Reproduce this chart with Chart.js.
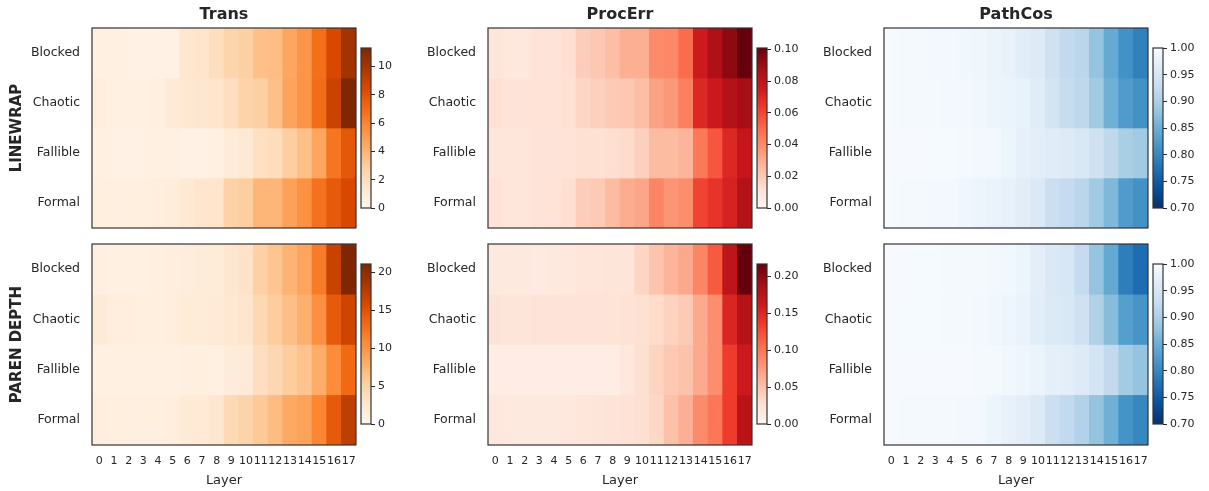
<!DOCTYPE html>
<html>
<head>
<meta charset="utf-8">
<script src="https://cdn.jsdelivr.net/npm/chart.js@4.4.0/dist/chart.umd.min.js"></script>
<style>
  body { margin: 0; background: #fff; }
  #wrap { position: relative; width: 1209px; height: 491px; overflow: hidden; }
  #wrap canvas { position: absolute; }
</style>
</head>
<body>
<div id="wrap"></div>
<script>
const layers = ["0", "1", "2", "3", "4", "5", "6", "7", "8", "9", "10", "11", "12", "13", "14", "15", "16", "17"];
const conditions = ["Blocked", "Chaotic", "Fallible", "Formal"];
const metrics = ["Trans", "ProcErr", "PathCos"];
const tasks = ["LINEWRAP", "PAREN DEPTH"];

// rows follow `conditions`, columns follow `layers`
const transLinewrap = [
  [0.45, 0.45, 0.3, 0.3, 0.3, 0.4, 1.3, 1.5, 1.9, 2.5, 2.8, 3.5, 3.6, 4.6, 5.3, 6.8, 8.5, 10.1],
  [0.7, 0.5, 0.5, 0.5, 0.6, 1.0, 1.2, 1.3, 1.5, 1.9, 2.6, 2.8, 3.5, 4.7, 5.4, 6.9, 8.9, 11.3],
  [0.45, 0.4, 0.4, 0.4, 0.45, 0.45, 0.4, 0.4, 0.45, 0.9, 1.1, 1.8, 2.0, 2.9, 3.5, 4.6, 6.6, 7.8],
  [0.6, 0.55, 0.55, 0.6, 0.7, 0.8, 1.1, 1.4, 1.5, 2.7, 2.9, 3.9, 3.9, 4.8, 5.5, 6.7, 7.7, 8.5],
];
const procErrLinewrap = [
  [0.009, 0.008, 0.008, 0.01, 0.01, 0.013, 0.019, 0.021, 0.024, 0.029, 0.029, 0.04, 0.041, 0.05, 0.075, 0.085, 0.093, 0.101],
  [0.012, 0.01, 0.01, 0.011, 0.011, 0.012, 0.016, 0.018, 0.02, 0.021, 0.024, 0.033, 0.036, 0.044, 0.07, 0.076, 0.084, 0.088],
  [0.009, 0.009, 0.009, 0.01, 0.01, 0.011, 0.012, 0.012, 0.013, 0.014, 0.018, 0.025, 0.025, 0.027, 0.046, 0.056, 0.07, 0.078],
  [0.011, 0.009, 0.009, 0.01, 0.011, 0.013, 0.019, 0.02, 0.025, 0.03, 0.032, 0.042, 0.037, 0.039, 0.061, 0.066, 0.072, 0.084],
];
const pathCosLinewrap = [
  [0.997, 0.996, 0.995, 0.994, 0.993, 0.99, 0.988, 0.982, 0.979, 0.967, 0.962, 0.94, 0.922, 0.915, 0.88, 0.845, 0.812, 0.793],
  [0.997, 0.996, 0.996, 0.995, 0.994, 0.992, 0.99, 0.985, 0.982, 0.978, 0.965, 0.945, 0.928, 0.918, 0.89, 0.853, 0.825, 0.812],
  [0.998, 0.998, 0.998, 0.997, 0.997, 0.995, 0.993, 0.992, 0.985, 0.975, 0.97, 0.965, 0.962, 0.955, 0.94, 0.918, 0.898, 0.89],
  [0.997, 0.996, 0.995, 0.993, 0.992, 0.989, 0.985, 0.98, 0.976, 0.968, 0.958, 0.935, 0.925, 0.915, 0.89, 0.865, 0.825, 0.812],
];
const transParen = [
  [1.0, 0.9, 0.9, 0.9, 1.0, 1.2, 1.4, 1.5, 1.6, 2.4, 3.0, 5.1, 6.1, 7.5, 8.6, 11.8, 16.7, 21.1],
  [1.8, 1.3, 1.3, 1.1, 1.1, 1.2, 1.6, 1.7, 1.9, 2.3, 2.6, 4.3, 5.5, 6.6, 7.8, 10.3, 14.4, 16.4],
  [0.9, 0.8, 0.8, 0.8, 0.8, 0.9, 1.0, 1.1, 0.9, 1.5, 1.9, 3.6, 4.4, 5.5, 6.2, 8.0, 10.7, 13.2],
  [1.3, 1.1, 1.0, 1.0, 1.1, 1.3, 1.8, 2.0, 2.4, 4.2, 4.8, 5.8, 6.8, 8.3, 8.9, 11.0, 14.4, 17.2],
];
const procErrParen = [
  [0.016, 0.016, 0.015, 0.014, 0.016, 0.018, 0.019, 0.019, 0.021, 0.021, 0.035, 0.048, 0.058, 0.067, 0.09, 0.118, 0.172, 0.217],
  [0.022, 0.021, 0.021, 0.022, 0.022, 0.022, 0.022, 0.022, 0.023, 0.024, 0.026, 0.031, 0.037, 0.043, 0.066, 0.085, 0.152, 0.178],
  [0.012, 0.011, 0.011, 0.011, 0.011, 0.011, 0.011, 0.011, 0.012, 0.017, 0.027, 0.036, 0.044, 0.049, 0.066, 0.085, 0.136, 0.162],
  [0.018, 0.016, 0.015, 0.015, 0.016, 0.018, 0.02, 0.021, 0.022, 0.024, 0.027, 0.033, 0.05, 0.062, 0.086, 0.1, 0.136, 0.175],
];
const pathCosParen = [
  [0.998, 0.998, 0.997, 0.997, 0.996, 0.996, 0.995, 0.993, 0.99, 0.984, 0.97, 0.958, 0.952, 0.925, 0.88, 0.843, 0.79, 0.77],
  [0.998, 0.997, 0.997, 0.997, 0.996, 0.995, 0.993, 0.99, 0.986, 0.98, 0.967, 0.96, 0.955, 0.94, 0.904, 0.87, 0.83, 0.817],
  [0.998, 0.998, 0.998, 0.998, 0.998, 0.998, 0.996, 0.995, 0.99, 0.987, 0.983, 0.973, 0.97, 0.962, 0.945, 0.922, 0.892, 0.88],
  [0.998, 0.996, 0.996, 0.996, 0.995, 0.994, 0.992, 0.985, 0.977, 0.97, 0.96, 0.935, 0.922, 0.905, 0.88, 0.853, 0.815, 0.8],
];

// colorbar tick labels, per task row
const transTicks = [[0, 2, 4, 6, 8, 10], [0, 5, 10, 15, 20]];
const procErrTicks = [[0, 0.02, 0.04, 0.06, 0.08, 0.1], [0, 0.05, 0.1, 0.15, 0.2]];
const pathCosTicks = [[0.7, 0.75, 0.8, 0.85, 0.9, 0.95, 1.0], [0.7, 0.75, 0.8, 0.85, 0.9, 0.95, 1.0]];

/* === colormaps (matplotlib Oranges / Reds / Blues) === */
const ORANGES = ["#fff5eb", "#fee6ce", "#fdd0a2", "#fdae6b", "#fd8d3c", "#f16913", "#d94801", "#a63603", "#7f2704"];
const REDS = ["#fff5f0", "#fee0d2", "#fcbba1", "#fc9272", "#fb6a4a", "#ef3b2c", "#cb181d", "#a50f15", "#67000d"];
const BLUES = ["#f7fbff", "#deebf7", "#c6dbef", "#9ecae1", "#6baed6", "#4292c6", "#2171b5", "#08519c", "#08306b"];

function hexRgb(h) {
  return [1, 3, 5].map((i) => parseInt(h.slice(i, i + 2), 16));
}
function colorAt(stops, t) {
  t = Math.min(1, Math.max(0, t));
  let p = t * (stops.length - 1);
  let i = Math.min(Math.floor(p), stops.length - 2);
  let f = p - i;
  let a = hexRgb(stops[i]);
  let b = hexRgb(stops[i + 1]);
  let c = a.map((v, k) => Math.round(v + (b[k] - v) * f));
  return `rgb(${c[0]}, ${c[1]}, ${c[2]})`;
}

const TEXT = "#262626";
Chart.defaults.font.family = "'DejaVu Sans', sans-serif";
Chart.defaults.color = TEXT;

// dark box round every plot area
const frame = {
  id: "frame",
  afterDraw(chart) {
    const { ctx, chartArea: a } = chart;
    ctx.save();
    ctx.strokeStyle = "#333";
    ctx.lineWidth = 1.2;
    ctx.strokeRect(a.left, a.top, a.width, a.height);
    ctx.restore();
  },
};

const wrap = document.getElementById("wrap");
function addCanvas(left, top, w, h) {
  let c = document.createElement("canvas");
  c.width = w;
  c.height = h;
  c.style.left = left + "px";
  c.style.top = top + "px";
  wrap.appendChild(c);
  return c;
}

const PX = [92, 488, 884];
const PW = 264;
const PY = [28, 244];
const PH = [200, 201];

function heatmap(row, col, grid, colorOf) {
  let top = row === 0 ? 0 : PY[1] - 20;
  let h = row === 0 ? 28 + PH[0] + 20 : 491 - top;
  let canvas = addCanvas(PX[col] - 92, top, 92 + PW + 10, h);
  let datasets = conditions.map((name, r) => ({
    label: name,
    data: layers.map(() => 1),
    backgroundColor: grid[r].map(colorOf),
    borderWidth: 0,
    barPercentage: 1,
    categoryPercentage: 1,
  }));
  new Chart(canvas, {
    type: "bar",
    data: { labels: layers, datasets },
    options: {
      responsive: false,
      animation: false,
      events: [],
      layout: { padding: { left: 0, right: 10, top: row === 0 ? 0 : 20, bottom: row === 0 ? 20 : 0 } },
      plugins: {
        legend: { display: false },
        tooltip: { enabled: false },
        title: {
          display: row === 0,
          text: metrics[col],
          fullSize: false,
          color: TEXT,
          font: { size: 16, weight: "bold" },
          padding: { top: 5, bottom: 3.8 },
        },
      },
      scales: {
        x: {
          stacked: true,
          display: row === 1,
          grid: { display: false, drawTicks: false },
          border: { display: false },
          ticks: { padding: 10, autoSkip: false, maxRotation: 0, font: { size: 11 } },
          title: { display: true, text: "Layer", font: { size: 13 }, padding: { top: 0, bottom: 3 } },
          afterFit: (axis) => {
            // only the bottom row shows the layer axis
            axis.height = row === 1 ? 46 : 0;
          },
        },
        y: {
          stacked: true,
          reverse: true,
          min: 0,
          max: conditions.length,
          grid: { display: false, drawTicks: false },
          border: { display: false },
          afterBuildTicks: (axis) => {
            axis.ticks = conditions.map((c, i) => ({ value: i + 0.5 }));
          },
          afterFit: (axis) => {
            axis.width = 92;
          },
          ticks: { padding: 12, font: { size: 12.5 }, callback: (v, i) => conditions[i] },
          title: {
            display: col === 0,
            text: tasks[row],
            font: { size: 15, weight: "bold" },
            padding: { top: 8, bottom: 0 },
          },
        },
      },
    },
    plugins: [frame],
  });
}

function colorbar(row, col, vmin, vmax, colorOf, ticks, fmt) {
  let cbx = PX[col] + PW + 5;
  let cby = [48, 264][row];
  let canvas = addCanvas(cbx - 2, cby - 12, 52, 160 + 24);
  new Chart(canvas, {
    type: "bar",
    data: {
      labels: [""],
      datasets: [
        {
          data: [[vmin, vmax]],
          borderWidth: 0,
          barPercentage: 1,
          categoryPercentage: 1,
          backgroundColor: (c) => {
            let a = c.chart.chartArea;
            if (!a) return colorOf(vmin);
            let g = c.chart.ctx.createLinearGradient(0, a.bottom, 0, a.top);
            for (let i = 0; i <= 32; i++) {
              g.addColorStop(i / 32, colorOf(vmin + ((vmax - vmin) * i) / 32));
            }
            return g;
          },
        },
      ],
    },
    options: {
      responsive: false,
      animation: false,
      events: [],
      layout: { padding: { left: 2, right: 0, top: 12, bottom: 12 } },
      plugins: { legend: { display: false }, tooltip: { enabled: false } },
      scales: {
        x: { display: false },
        y: {
          position: "right",
          min: vmin,
          max: vmax,
          border: { display: false },
          grid: { drawOnChartArea: false, drawTicks: true, tickLength: 4, tickColor: TEXT, tickWidth: 1 },
          afterBuildTicks: (axis) => {
            axis.ticks = ticks.map((v) => ({ value: v }));
          },
          afterFit: (axis) => {
            axis.width = 40;
          },
          ticks: { padding: 3, font: { size: 11 }, callback: (v, i) => fmt(ticks[i]) },
        },
      },
    },
    plugins: [frame],
  });
}

/* === BUILD THE GRID === */
const panels = [
  [transLinewrap, procErrLinewrap, pathCosLinewrap],
  [transParen, procErrParen, pathCosParen],
];
const tickSets = [transTicks, procErrTicks, pathCosTicks];
const palettes = [ORANGES, REDS, BLUES];

panels.forEach((rowGrids, row) => {
  rowGrids.forEach((grid, col) => {
    let vmin, vmax, colorOf;
    if (col === 2) {
      // PathCos: reversed Blues on a fixed 0.70 - 1.00 range
      vmin = 0.7;
      vmax = 1.0;
      colorOf = (v) => colorAt(BLUES, (vmax - v) / (vmax - vmin));
    } else {
      vmin = 0;
      vmax = Math.max(...grid.flat());
      colorOf = (v) => colorAt(palettes[col], (v - vmin) / (vmax - vmin));
    }
    let fmt = col === 0 ? (v) => String(v) : (v) => v.toFixed(2);
    heatmap(row, col, grid, colorOf);
    colorbar(row, col, vmin, vmax, colorOf, tickSets[col][row], fmt);
  });
});
</script>
</body>
</html>
